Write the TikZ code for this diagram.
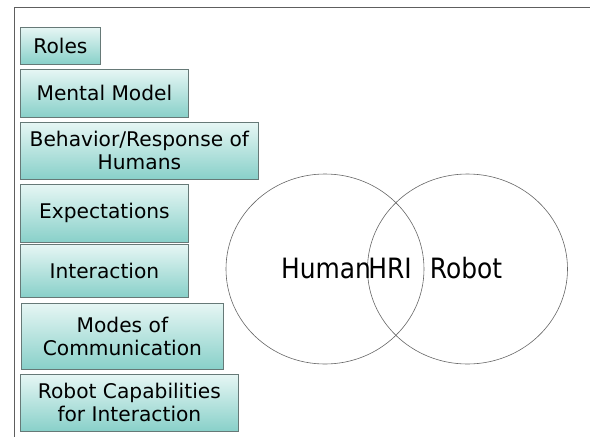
\documentclass[tikz,border=0pt]{standalone}
\usepackage{fontspec}
\setmainfont{DejaVu Sans}
\newfontfamily\hrifont[FakeStretch=0.89]{DejaVu Sans}
\usetikzlibrary{shapes.geometric}
\definecolor{boxtop}{HTML}{E6F6F4}
\definecolor{boxbottom}{HTML}{88D0C9}
\definecolor{boxline}{HTML}{667977}
\definecolor{frameline}{HTML}{5E5E5E}
\tikzset{
	topicbox/.style={draw=boxline, line width=0.8pt, top color=boxtop, bottom color=boxbottom,
		anchor=north west, align=center, inner sep=0pt,
		font=\fontsize{20.2}{23}\selectfont},
	hriset/.style={draw=gray!80!black, line width=0.6pt, ellipse, inner sep=0pt,
		minimum width=198pt, minimum height=190pt},
	hrilabel/.style={anchor=base, inner sep=0pt, font=\hrifont\fontsize{28}{30}\selectfont}
}

\begin{document}
\begin{tikzpicture}[x=1pt, y=-1pt]
			\useasboundingbox (0,0) rectangle (590,437);
			% Frame
			\draw[frameline, line width=1pt] (14,437) -- (14,7) -- (590,7);
	
			% Boxes
			\node[topicbox, minimum width=80pt, minimum height=37pt] (roles) at (20,27) {Roles};
			\node[topicbox, minimum width=168pt, minimum height=48pt] (mental) at (20,69) {Mental Model};
			\node[topicbox, minimum width=238pt, minimum height=57pt] (behavior) at (20,122) {Behavior/Response of\\Humans};
			\node[topicbox, minimum width=168pt, minimum height=58pt] (expect) at (20,184) {Expectations};
			\node[topicbox, minimum width=168pt, minimum height=53pt] (interact) at (20,244) {Interaction};
			\node[topicbox, minimum width=202pt, minimum height=66pt] (modes) at (21,303) {Modes of\\Communication};
			\node[topicbox, minimum width=218pt, minimum height=57pt] (robotcap) at (20,374) {Robot Capabilities\\for Interaction};
	
			% Sets
			\node[hriset] (human) at (325,269) {};
			\node[hriset, minimum width=200pt] (robot) at (467.5,269) {};
	
			% Labels
			\node[hrilabel] (humanlbl) at (326,278) {Human};
			\node[hrilabel] (hrilbl) at (390,278) {HRI};
			\node[hrilabel] (robotlbl) at (466,278) {Robot};
		\end{tikzpicture}
\end{document}
